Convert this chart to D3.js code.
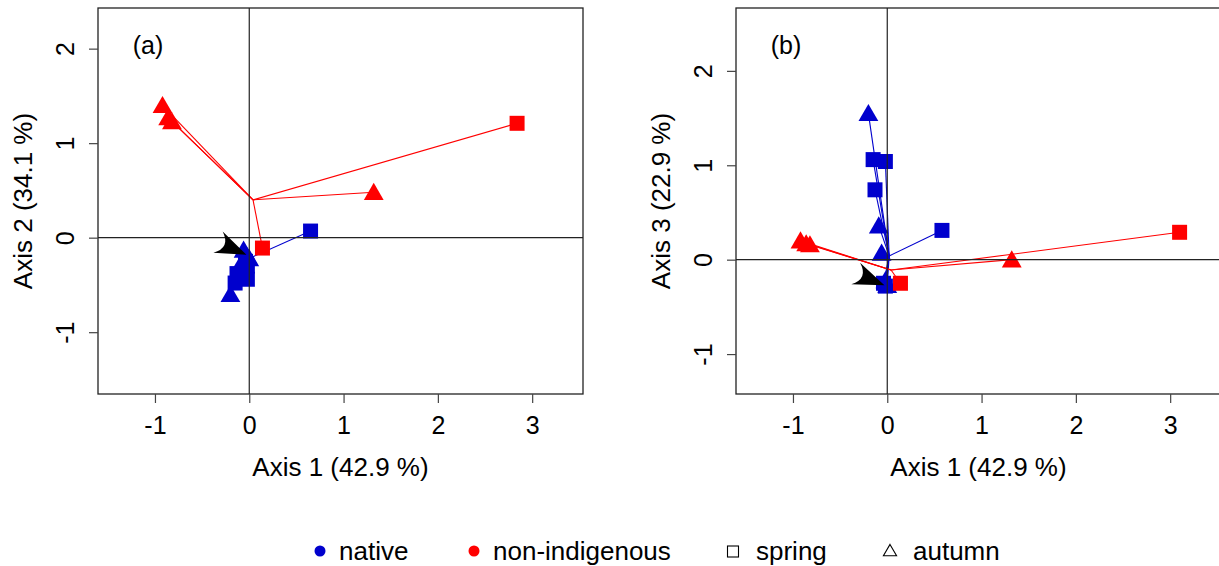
<!DOCTYPE html>
<html>
<head>
<meta charset="utf-8">
<script src="https://cdn.jsdelivr.net/npm/d3@7"></script>
<style>
  body { margin: 0; background: #fff; }
  svg text { font-family: "Liberation Sans", Arial, Helvetica, sans-serif; fill: #000; }
</style>
</head>
<body>
<svg id="chart" width="1219" height="566"></svg>
<script>
// ordination scores
var nativeSeason = ["spring", "autumn", "spring", "spring", "spring", "autumn", "autumn", "autumn", "spring", "autumn", "spring"];
var nativeAxis1 = [0.65, -0.20, -0.15, -0.02, -0.13, -0.09, -0.06, -0.02, -0.04, 0.00, -0.02];
var nativeAxis2 = [0.07, -0.60, -0.48, -0.44, -0.38, -0.28, -0.13, -0.20, -0.25, -0.22, -0.30];
// axis 1 as plotted in panel (b)
var nativeAxis1b = [0.58, -0.20, -0.15, -0.02, -0.13, -0.09, -0.06, -0.02, -0.04, 0.00, -0.02];
var nativeAxis3 = [0.31, 1.55, 1.06, 1.04, 0.74, 0.36, 0.07, -0.22, -0.25, -0.27, -0.28];

var nisSeason = ["autumn", "autumn", "autumn", "spring", "autumn", "spring"];
var nisAxis1 = [-0.92, -0.86, -0.82, 2.84, 1.32, 0.14];
var nisAxis2 = [1.40, 1.27, 1.23, 1.21, 0.48, -0.11];
var nisAxis1b = [-0.92, -0.86, -0.82, 3.10, 1.32, 0.14];
var nisAxis3 = [0.20, 0.17, 0.16, 0.29, 0.00, -0.25];

// group centroids: panel (a) [axis1, axis2], panel (b) [axis1, axis3]
var nativeCentroidA = [0.02, -0.21];
var nativeCentroidB = [0.02, 0.04];
var nisCentroidA = [0.04, 0.40];
var nisCentroidB = [0.04, -0.11];

// black arrow: tail and tip, panel (a) and panel (b)
var arrowA = [[-0.35, -0.04], [-0.03, -0.18]];
var arrowB = [[-0.35, -0.14], [-0.03, -0.27]];

var xTicks = [-1, 0, 1, 2, 3];
var yTicks = [-1, 0, 1, 2];
var legendLabels = ["native", "non-indigenous", "spring", "autumn"];

var blue = "#0000cd", red = "#ff0000";

var svg = d3.select("#chart");

function rows(season, xs, ys) {
  return season.map(function(s, i) { return {season: s, x: xs[i], y: ys[i]}; });
}

var panels = [
  {name: "(a)", left: 98, right: 583, top: 8, bottom: 394,
   xDom: [-1.604, 3.539], yDom: [-1.654, 2.43], yTitle: "Axis 2 (34.1 %)",
   nat: rows(nativeSeason, nativeAxis1, nativeAxis2), nis: rows(nisSeason, nisAxis1, nisAxis2),
   natC: nativeCentroidA, nisC: nisCentroidA, arrow: arrowA},
  {name: "(b)", left: 736, right: 1221, top: 8, bottom: 394,
   xDom: [-1.604, 3.539], yDom: [-1.423, 2.666], yTitle: "Axis 3 (22.9 %)",
   nat: rows(nativeSeason, nativeAxis1b, nativeAxis3), nis: rows(nisSeason, nisAxis1b, nisAxis3),
   natC: nativeCentroidB, nisC: nisCentroidB, arrow: arrowB}
];

var triangle = d3.symbol().type(d3.symbolTriangle).size(170);
var square = d3.symbol().type(d3.symbolSquare).size(225);

panels.forEach(function(p, pi) {
  var x = d3.scaleLinear().domain(p.xDom).range([p.left, p.right]);
  var y = d3.scaleLinear().domain(p.yDom).range([p.bottom, p.top]);

  var clipId = "clip" + pi;
  svg.append("clipPath").attr("id", clipId).append("rect")
    .attr("x", p.left).attr("y", p.top)
    .attr("width", p.right - p.left).attr("height", p.bottom - p.top);

  var g = svg.append("g").attr("clip-path", "url(#" + clipId + ")");

  // spider lines
  [[p.nat, p.natC, blue], [p.nis, p.nisC, red]].forEach(function(grp) {
    g.selectAll(null).data(grp[0]).enter().append("line")
      .attr("x1", x(grp[1][0])).attr("y1", y(grp[1][1]))
      .attr("x2", function(d) { return x(d.x); })
      .attr("y2", function(d) { return y(d.y); })
      .attr("stroke", grp[2]).attr("stroke-width", 1.1);
  });

  // points
  [[p.nat, blue], [p.nis, red]].forEach(function(grp) {
    g.selectAll(null).data(grp[0]).enter().append("path")
      .attr("d", function(d) { return d.season == "spring" ? square() : triangle(); })
      .attr("transform", function(d) {
        var dy = d.season == "spring" ? 0 : 2;
        return "translate(" + x(d.x) + "," + (y(d.y) + dy) + ")";
      })
      .attr("fill", grp[1]);
  });

  // zero lines
  g.append("line").attr("x1", p.left).attr("x2", p.right)
    .attr("y1", y(0)).attr("y2", y(0)).attr("stroke", "#222").attr("stroke-width", 1.2);
  g.append("line").attr("x1", x(0)).attr("x2", x(0))
    .attr("y1", p.top).attr("y2", p.bottom).attr("stroke", "#222").attr("stroke-width", 1.2);

  // arrow head
  var tail = p.arrow[0], tip = p.arrow[1];
  var tx = x(tip[0]), ty = y(tip[1]);
  var ang = Math.atan2(ty - y(tail[1]), tx - x(tail[0])) * 180 / Math.PI;
  g.append("path")
    .attr("d", "M0,0 L-31,-11.6 Q-17,0 -31,11.6 Z")
    .attr("transform", "translate(" + tx + "," + ty + ") rotate(" + ang + ")")
    .attr("fill", "#000");

  // frame
  svg.append("rect").attr("x", p.left).attr("y", p.top)
    .attr("width", p.right - p.left).attr("height", p.bottom - p.top)
    .attr("fill", "none").attr("stroke", "#222").attr("stroke-width", 1.3);

  // axes
  var xa = svg.append("g").attr("transform", "translate(0," + p.bottom + ")")
    .call(d3.axisBottom(x).tickValues(xTicks).tickSize(9).tickPadding(13));
  var ya = svg.append("g").attr("transform", "translate(" + p.left + ",0)")
    .call(d3.axisLeft(y).tickValues(yTicks).tickSize(9));
  [xa, ya].forEach(function(a) {
    a.select(".domain").remove();
    a.selectAll(".tick line").attr("stroke", "#444").attr("stroke-width", 1.2);
    a.selectAll("text").style("font-size", "25px").attr("fill", "#000")
      .style("font-family", "'Liberation Sans', Arial, sans-serif")
      .text(function(d) { return d < 0 ? "-" + Math.abs(d) : d; });
  });
  ya.selectAll("text")
    .attr("x", null).attr("dy", null)
    .attr("text-anchor", "middle")
    .attr("transform", "translate(-24,0) rotate(-90)");

  // titles
  svg.append("text").attr("x", (p.left + p.right) / 2).attr("y", 476)
    .attr("text-anchor", "middle").style("font-size", "26px").text("Axis 1 (42.9 %)");
  svg.append("text")
    .attr("transform", "translate(" + (p.left - 66) + "," + ((p.top + p.bottom) / 2) + ") rotate(-90)")
    .attr("text-anchor", "middle").style("font-size", "26px").text(p.yTitle);
  svg.append("text").attr("x", p.left + 50).attr("y", 54)
    .attr("text-anchor", "middle").style("font-size", "25px").text(p.name);
});

// legend
var lg = svg.append("g");
var legendX = [320, 474, 733, 890];
var legendY = 551;
lg.append("circle").attr("cx", legendX[0]).attr("cy", legendY).attr("r", 5.5).attr("fill", blue);
lg.append("circle").attr("cx", legendX[1]).attr("cy", legendY).attr("r", 5.5).attr("fill", red);
lg.append("rect").attr("x", legendX[2] - 5.5).attr("y", legendY - 5).attr("width", 11).attr("height", 11)
  .attr("fill", "none").attr("stroke", "#000").attr("stroke-width", 1.1);
lg.append("path").attr("d", d3.symbol().type(d3.symbolTriangle).size(75)())
  .attr("transform", "translate(" + legendX[3] + "," + (legendY + 1) + ")")
  .attr("fill", "none").attr("stroke", "#000").attr("stroke-width", 1.1);
lg.selectAll("text.leg").data(legendLabels).enter().append("text")
  .attr("class", "leg")
  .attr("x", function(d, i) { return legendX[i] + (i < 2 ? 19 : 23); })
  .attr("y", legendY + 9)
  .style("font-size", "26px")
  .text(function(d) { return d; });
</script>
</body>
</html>
